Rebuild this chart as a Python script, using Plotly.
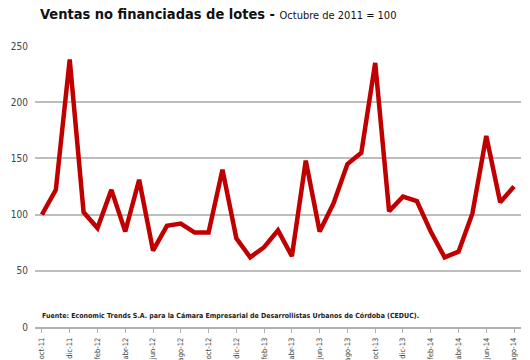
import plotly.graph_objects as go

months = ["oct-11","nov-11","dic-11","ene-12","feb-12","mar-12","abr-12","may-12","jun-12","jul-12","ago-12","sep-12",
          "oct-12","nov-12","dic-12","ene-13","feb-13","mar-13","abr-13","may-13","jun-13","jul-13","ago-13","sep-13",
          "oct-13","nov-13","dic-13","ene-14","feb-14","mar-14","abr-14","may-14","jun-14","jul-14","ago-14"]
values = [100, 122, 238, 102, 88, 122, 85, 131, 68, 90, 92, 84, 84, 140, 79, 62, 71, 86, 63, 148, 85, 110,
          145, 155, 235, 103, 116, 112, 85, 62, 67, 101, 170, 111, 125]
y_ticks = [0, 50, 100, 150, 200, 250]

idx = list(range(len(months)))
tick_idx = idx[::2]
tick_txt = [months[i] for i in tick_idx]

NARROW = "DejaVu Sans Condensed"

fig = go.Figure()
fig.add_trace(go.Scatter(x=idx, y=values, mode="lines",
                         line=dict(color="#c00000", width=4.5), hoverinfo="skip"))

fig.update_layout(
    width=530, height=360,
    margin=dict(l=35, r=9, t=46, b=33),
    paper_bgcolor="white", plot_bgcolor="white",
    showlegend=False,
    font=dict(family=NARROW, color="#444"),
    xaxis=dict(range=[-0.5, 34.5], tickvals=tick_idx, ticktext=tick_txt, tickangle=-90,
               tickfont=dict(size=7.5, color="#444", family=NARROW),
               showgrid=False, zeroline=False, automargin=False,
               showline=True, linecolor="#b0b0b0", linewidth=1.5,
               ticks="outside", ticklen=4, tickcolor="#b0b0b0", ticklabelstandoff=2),
    yaxis=dict(range=[0, 250], tickvals=y_ticks, showgrid=True, gridcolor="#bdbdbd", gridwidth=2,
               zeroline=False, showline=False, automargin=False,
               tickfont=dict(size=10, color="#444", family=NARROW),
               ticklabelstandoff=6),
    annotations=[
        dict(xref="paper", yref="paper", x=0.006, y=1.114, xanchor="left", yanchor="middle",
             showarrow=False,
             text="<b>Ventas no financiadas de lotes - </b><span style='font-size:11px'>Octubre de 2011 = 100</span>",
             font=dict(size=14.5, color="#111", family=NARROW)),
        dict(xref="paper", yref="paper", x=0.0103, y=0.039, xanchor="left", yanchor="middle",
             showarrow=False,
             text="<b>Fuente: Economic Trends S.A. para la Cámara Empresarial de Desarrollistas Urbanos de Córdoba (CEDUC).</b>",
             font=dict(size=7, color="#222", family=NARROW)),
    ],
)

fig.write_html("out.html", config={"displayModeBar": False},
               post_script="document.body.style.margin='0';")
